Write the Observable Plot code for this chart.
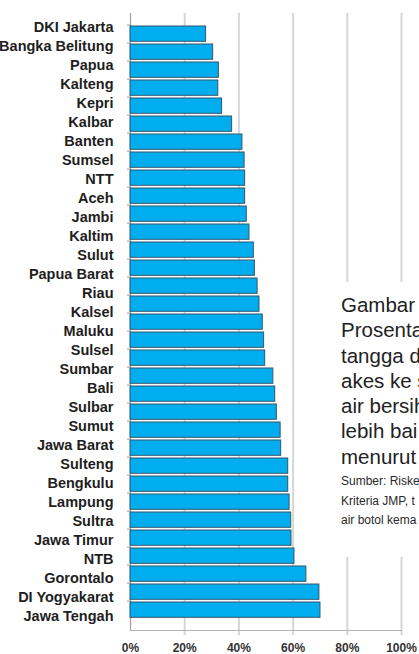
<!DOCTYPE html>
<html>
<head>
<meta charset="utf-8">
<script src="https://cdn.jsdelivr.net/npm/d3@7"></script>
<script src="https://cdn.jsdelivr.net/npm/@observablehq/plot@0.6"></script>
<style>
  html, body { margin: 0; padding: 0; background: #fff; overflow: hidden; }
  #wrap { position: relative; width: 419px; height: 654px; overflow: hidden; background: #fff; }
  #wrap svg { position: absolute; left: 0; top: 0; }
  #note { position: absolute; left: 300px; top: 282px; width: 140px; height: 275px; background: #fff;
          font-family: "Liberation Sans", Arial, sans-serif; color: #222; white-space: nowrap; }
  #note .big { position: absolute; left: 41px; top: 10px; font-size: 20.5px; line-height: 25.3px; }
  #note .small { position: absolute; left: 41px; top: 190px; font-size: 12px; line-height: 19.5px; color: #2a2a2a; }
</style>
</head>
<body>
<div id="wrap"></div>
<script>
// Province labels as printed (32 labels along the axis)
const provinces = ["DKI Jakarta","Bangka Belitung","Papua","Kalteng","Kepri","Kalbar","Banten","Sumsel","NTT","Aceh","Jambi","Kaltim","Sulut","Papua Barat","Riau","Kalsel","Maluku","Sulsel","Sumbar","Bali","Sulbar","Sumut","Jawa Barat","Sulteng","Bengkulu","Lampung","Sultra","Jawa Timur","NTB","Gorontalo","DI Yogyakarat","Jawa Tengah"];
// Bar values in %, top to bottom (33 bars drawn in the picture)
const barValues = [27.9,30.5,32.6,32.4,33.8,37.5,41.3,42.1,42.3,42.3,42.9,43.9,45.5,45.9,46.9,47.6,48.8,49.3,49.7,52.7,53.4,54.0,55.4,55.6,58.2,58.2,58.7,59.3,59.4,60.5,64.9,69.7,70.1];
const xTicks = [0,20,40,60,80,100];
const captionLines = ["Gambar","Prosenta","tangga d","akes ke s","air bersih","lebih bai","menurut"];
const sourceLines = ["Sumber: Riske","Kriteria JMP, t","air botol kema"];

const FONT = '"Liberation Sans", Arial, sans-serif';
const W = 419, H = 654, ML = 130, MR = 18, MT = 13, MB = 24;
const bars = barValues.map((v, i) => ({idx: i, value: v}));
const bw = (H - MT - MB) / bars.length;

const main = Plot.plot({
  width: W, height: H, marginLeft: ML, marginRight: MR, marginTop: MT, marginBottom: MB,
  x: {domain: [0, 100], label: null},
  y: {domain: bars.map(d => d.idx), padding: 0, axis: null, label: null},
  style: {background: "transparent", fontFamily: FONT, color: "#999"},
  marks: [
    Plot.gridX(xTicks.slice(1), {stroke: "#d6d6d6", strokeOpacity: 1, strokeWidth: 2}),
    Plot.axisX(xTicks.slice(1), {tickSize: 5, tickFormat: () => "", stroke: "#d6d6d6", strokeWidth: 2, label: null}),
    Plot.axisX(xTicks, {tickSize: 0, tickPadding: 13, tickFormat: d => d + "%", fontSize: 12, fontWeight: "bold", color: "#333", label: null}),
    Plot.frame({anchor: "bottom", stroke: "#b4b4b4"}),
    Plot.ruleX([0], {stroke: "#a0a0a0", strokeWidth: 1.2}),
    Plot.axisY(bars.map(d => d.idx), {tickSize: 3, tickFormat: () => "", dy: -bw / 2, stroke: "#999", label: null}),
    Plot.barX(bars, {x: "value", y: "idx", fill: "#00AEEF", stroke: "#35556a", strokeWidth: 1, insetTop: 1, insetBottom: 1.7})
  ]
});

const labels = Plot.plot({
  width: W, height: H, marginLeft: ML, marginRight: MR, marginTop: MT, marginBottom: MB,
  y: {domain: provinces, padding: 0, label: null},
  style: {background: "transparent", fontFamily: FONT, color: "#1e1e1e"},
  marks: [
    Plot.axisY({tickSize: 0, tickPadding: 17, fontSize: 14.5, fontWeight: "bold", label: null})
  ]
});

const wrap = document.getElementById("wrap");
wrap.appendChild(main);
wrap.appendChild(labels);

const note = document.createElement("div");
note.id = "note";
const big = document.createElement("div");
big.className = "big";
captionLines.forEach(t => { const d = document.createElement("div"); d.textContent = t; big.appendChild(d); });
const small = document.createElement("div");
small.className = "small";
sourceLines.forEach(t => { const d = document.createElement("div"); d.textContent = t; small.appendChild(d); });
note.appendChild(big);
note.appendChild(small);
wrap.appendChild(note);
</script>
</body>
</html>
